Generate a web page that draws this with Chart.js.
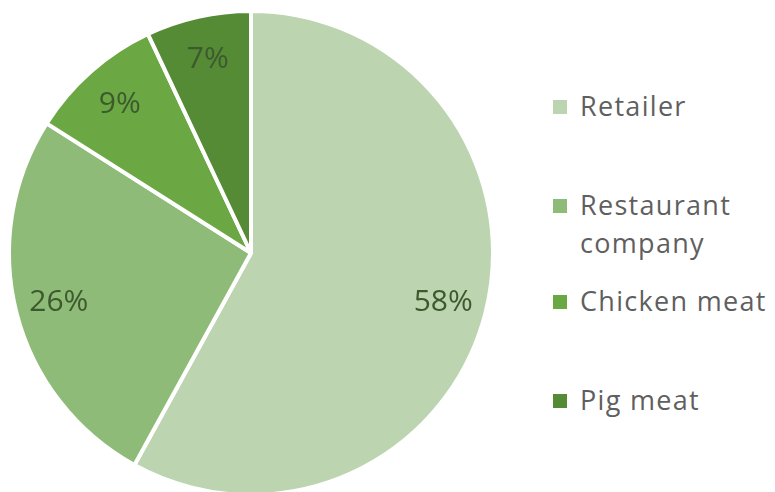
<!DOCTYPE html>
<html>
<head>
<meta charset="utf-8">
<script src="https://cdn.jsdelivr.net/npm/chart.js@4/dist/chart.umd.min.js"></script>
<style>
  html, body { margin: 0; padding: 0; background: #fff; }
  #wrap { position: relative; width: 775px; height: 492px; }
  #pieBox { position: absolute; left: 0; top: 0; width: 502px; height: 492px; }
  #legend { position: absolute; left: 553px; top: 0; font-family: "Open Sans", sans-serif; font-size: 27px; letter-spacing: 1.3px; color: #5f5f5f; }
  .item { position: absolute; left: 0; width: 222px; line-height: 38px; }
  .item .box { position: absolute; left: 0; top: 13px; width: 14px; height: 14px; }
  .item .txt { position: absolute; left: 27px; top: 0; white-space: nowrap; }
  .item:nth-child(1) { top: 87px; }
  .item:nth-child(2) { top: 186px; }
  .item:nth-child(3) { top: 282px; }
  .item:nth-child(4) { top: 381px; }
</style>
</head>
<body>
<div id="wrap">
  <div id="pieBox"><canvas id="pie"></canvas></div>
  <div id="legend"></div>
</div>
<script>
const labels = ["Retailer", "Restaurant company", "Chicken meat", "Pig meat"];
const legendLines = [["Retailer"], ["Restaurant", "company"], ["Chicken meat"], ["Pig meat"]];
const shares = [58, 26, 9, 7];
const colors = ["#bcd5b0", "#8fbb78", "#6ba843", "#568b36"];

// percent text inside each slice, near the outer edge
const sliceLabels = {
  id: "sliceLabels",
  afterDatasetsDraw(chart) {
    const ctx = chart.ctx;
    const meta = chart.getDatasetMeta(0);
    ctx.save();
    ctx.font = "30px 'Open Sans', sans-serif";
    ctx.fillStyle = "#3d5a2e";
    ctx.textAlign = "center";
    ctx.textBaseline = "middle";
    meta.data.forEach((arc, i) => {
      const mid = (arc.startAngle + arc.endAngle) / 2;
      const r = arc.outerRadius * 0.82;
      const x = arc.x + Math.cos(mid) * r;
      const y = arc.y + Math.sin(mid) * r;
      ctx.fillText(shares[i] + "%", x, y);
    });
    ctx.restore();
  }
};

new Chart(document.getElementById("pie"), {
  type: "pie",
  data: {
    labels,
    datasets: [{
      data: shares,
      backgroundColor: colors,
      borderColor: "#ffffff",
      borderWidth: 4,
      radius: 242,
    }]
  },
  options: {
    responsive: true,
    maintainAspectRatio: false,
    animation: false,
    layout: { padding: { top: 14, bottom: 0, left: 9, right: 9 } },
    plugins: {
      legend: { display: false },
      tooltip: { enabled: false }
    }
  },
  plugins: [sliceLabels]
});

const legendEl = document.getElementById("legend");
labels.forEach((name, i) => {
  const item = document.createElement("div");
  item.className = "item";
  item.innerHTML = `<span class="box" style="background:${colors[i]}"></span>` +
    `<span class="txt">${legendLines[i].join("<br>")}</span>`;
  legendEl.appendChild(item);
});
</script>
</body>
</html>
